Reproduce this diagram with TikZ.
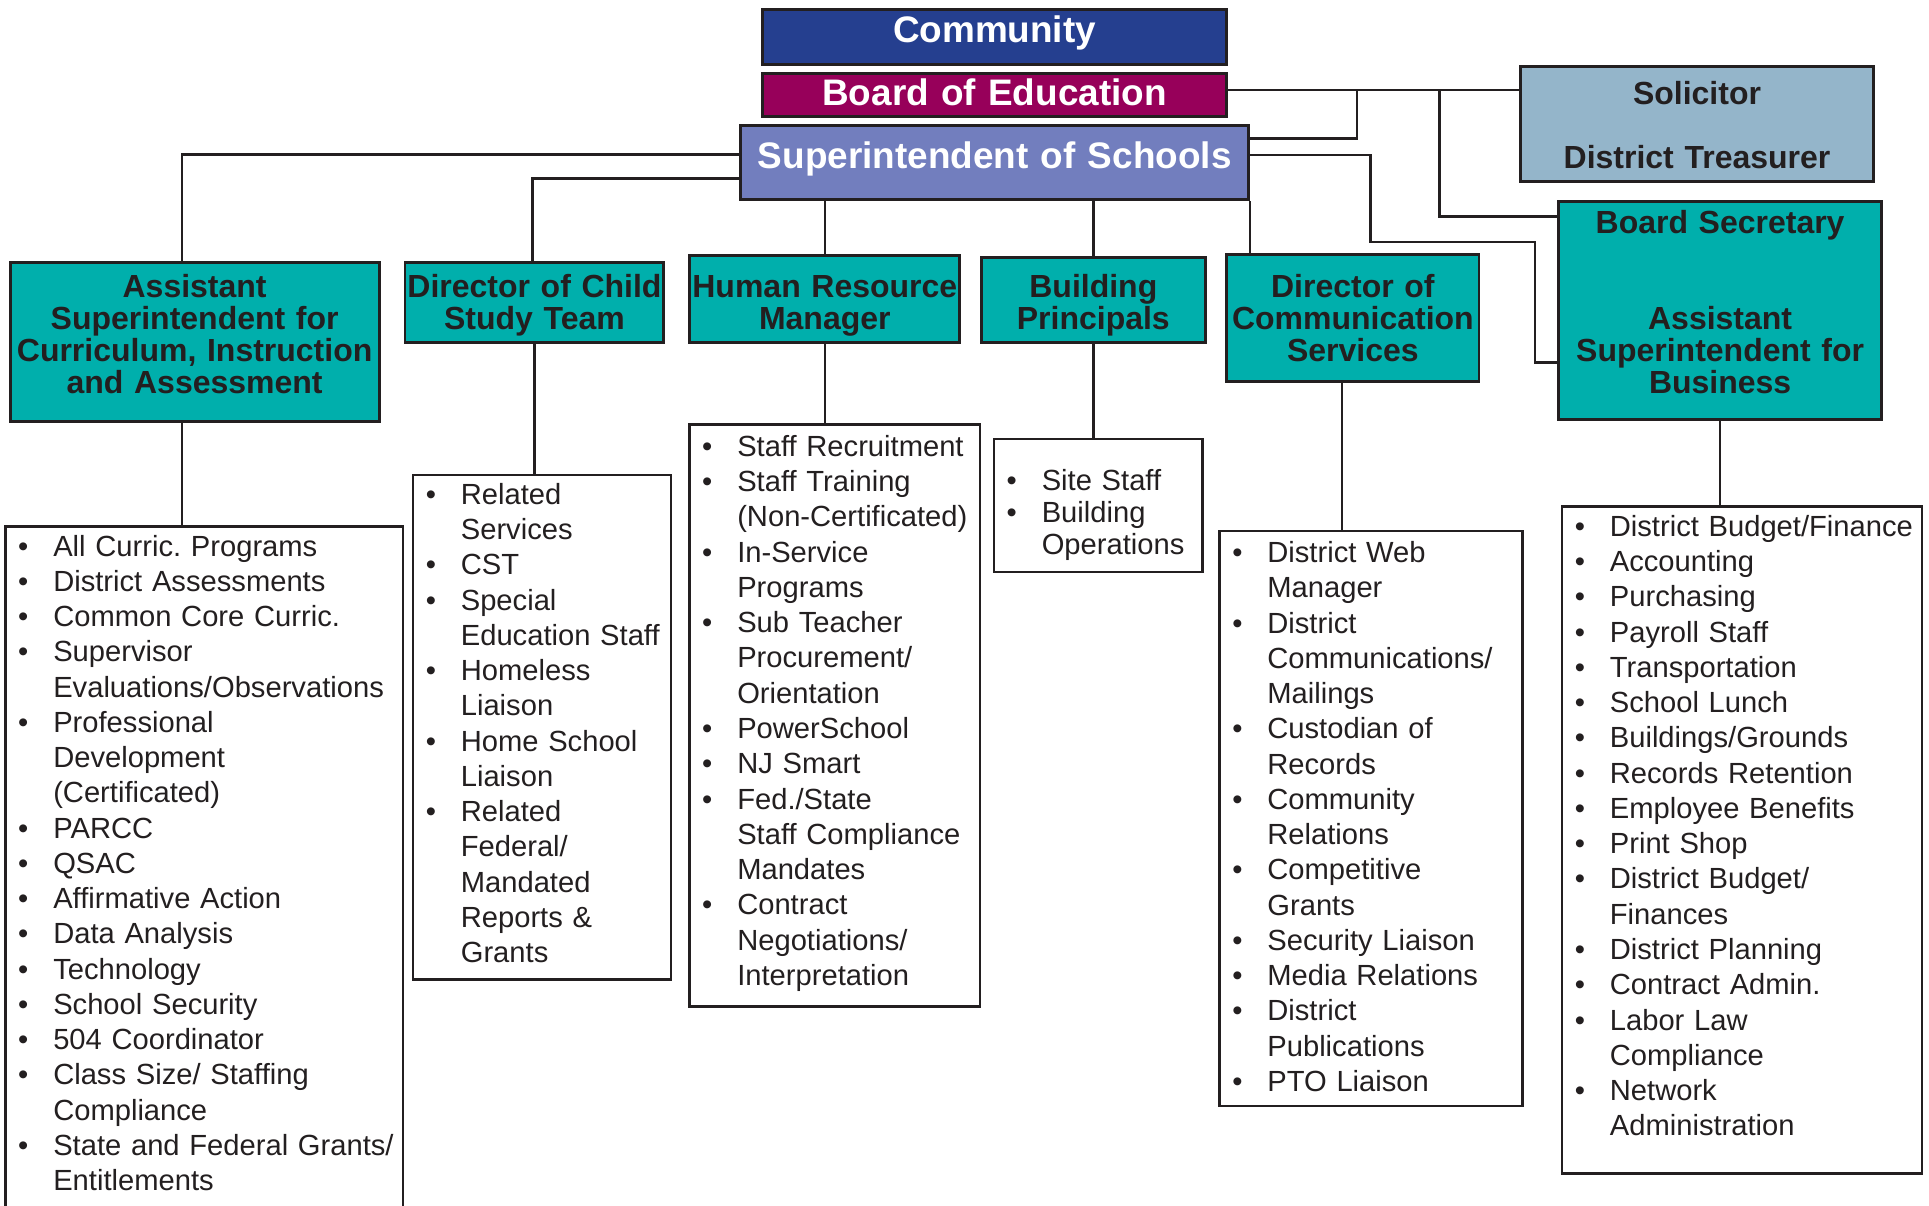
\documentclass[tikz,border=0pt]{standalone}
\usepackage{fontspec}
\setmainfont{Liberation Sans}
\frenchspacing
\definecolor{commblue}{HTML}{253F8F}
\definecolor{boardred}{HTML}{97005A}
\definecolor{suptblue}{HTML}{727EBE}
\definecolor{solblue}{HTML}{94B5CA}
\definecolor{headteal}{HTML}{00AFAC}
\definecolor{ink}{HTML}{231F20}
% one bullet line of a duty list
\newcommand{\duty}[1]{\noindent\hangindent=19.5pt\hangafter=1\hbox to 19.5pt{\hspace{5.25pt}\textbullet\hfil}#1\par}
\begin{document}
\begin{tikzpicture}[x=0.5pt,y=-0.5pt]
 \tikzset{topbox/.style={draw=ink, line width=1.2pt, inner xsep=-6pt, inner ysep=0pt, anchor=north west, align=center, text=white, font=\bfseries\fontsize{15}{15}\selectfont},
  headbox/.style={draw=ink, line width=1.2pt, fill=headteal, inner xsep=-6pt, inner ysep=0pt, anchor=north west, align=center, text=ink, font=\bfseries\fontsize{13}{13}\selectfont},
  listbox/.style={draw=ink, line width=1pt, inner xsep=0pt, inner ysep=0pt, anchor=north west, align=left, text=ink, font=\fontsize{11.85}{14.33}\selectfont},
  link/.style={draw=ink, line width=1pt}}
  \useasboundingbox (0,0) rectangle (1568,980);
  % top of the chart
  \node[topbox, fill=commblue, text width=200.6pt, text height=13.25pt, text depth=9.25pt] (community) at (618.6,6.5) {Community};
  \node[topbox, fill=boardred, text width=200.6pt, text height=13.1pt, text depth=4.5pt] (board) at (618.6,58.3) {Board of Education};
  \node[topbox, fill=suptblue, text width=218.35pt, text height=17.25pt, text depth=12.75pt] (supt) at (601,101) {Superintendent of Schools};
  \node[headbox, fill=solblue, text width=155.2pt, text height=15.5pt, text depth=31.15pt] (solicitor) at (1235,53) {Solicitor\\[13pt]District Treasurer};
  \node[headbox, text width=143pt, text height=12.85pt, text depth=75.6pt] (business) at (1266,162.6) {Board Secretary\\[26pt]Assistant\\Superintendent for\\Business};
  % second row
  \node[headbox, text width=162pt, text height=14.25pt, text depth=50.2pt] (curric) at (7,212.5) {Assistant\\Superintendent for\\Curriculum, Instruction\\and Assessment};
  \node[headbox, text width=117.25pt, text height=14.5pt, text depth=18pt] (cst) at (328,212) {Director of Child\\Study Team};
  \node[headbox, text width=121.75pt, text height=17.15pt, text depth=18pt] (hr) at (559.5,206.7) {Human Resource\\Manager};
  \node[headbox, text width=103.2pt, text height=16.5pt, text depth=18pt] (bldg) at (796.3,208) {Building\\Principals};
  \node[headbox, text width=114.5pt, text height=17.5pt, text depth=34pt] (comm) at (996,206) {Director of\\Communication\\Services};
  % duty lists
  \node[listbox, text width=161.6pt, text height=12pt, text depth=274.5pt] (curlist) at (3.3,427) {\duty{All Curric. Programs}\duty{District Assessments}\duty{Common Core Curric.}\duty{Supervisor\newline Evaluations/Observations}\duty{Professional\newline Development\newline (Certificated)}\duty{PARCC}\duty{QSAC}\duty{Affirmative Action}\duty{Data Analysis}\duty{Technology}\duty{School Security}\duty{504 Coordinator}\duty{Class Size/ Staffing\newline Compliance}\duty{State and Federal Grants/\newline Entitlements}};
  \node[listbox, text width=105pt, text height=12pt, text depth=193pt] (cstlist) at (334.6,385) {\duty{Related\newline Services}\duty{CST}\duty{Special\newline Education Staff}\duty{Homeless\newline Liaison}\duty{Home School\newline Liaison}\duty{Related\newline Federal/\newline Mandated\newline Reports \&\newline Grants}};
  \node[listbox, text width=118.05pt, text height=13pt, text depth=223.5pt] (hrlist) at (559.3,344) {\duty{Staff Recruitment}\duty{Staff Training\newline (Non-Certificated)}\duty{In-Service\newline Programs}\duty{Sub Teacher\newline Procurement/\newline Orientation}\duty{PowerSchool}\duty{NJ Smart}\duty{Fed./State\newline Staff Compliance\newline Mandates}\duty{Contract\newline Negotiations/\newline Interpretation}};
  \node[listbox, font=\fontsize{11.85}{13}\selectfont, text width=84.9pt, text height=21pt, text depth=33pt] (bldglist) at (806.8,356) {\duty{Site Staff}\duty{Building\newline Operations}};
  \node[listbox, text width=123.1pt, text height=12.8pt, text depth=220.85pt] (commlist) at (990.2,430.7) {\duty{District Web\newline Manager}\duty{District\newline Communications/\newline Mailings}\duty{Custodian of\newline Records}\duty{Community\newline Relations}\duty{Competitive\newline Grants}\duty{Security Liaison}\duty{Media Relations}\duty{District\newline Publications}\duty{PTO Liaison}};
  \node[listbox, text width=146.35pt, text height=12.2pt, text depth=258.9pt] (buslist) at (1268.6,410.6) {\duty{District Budget/Finance}\duty{Accounting}\duty{Purchasing}\duty{Payroll Staff}\duty{Transportation}\duty{School Lunch}\duty{Buildings/Grounds}\duty{Records Retention}\duty{Employee Benefits}\duty{Print Shop}\duty{District Budget/\newline Finances}\duty{District Planning}\duty{Contract Admin.}\duty{Labor Law\newline Compliance}\duty{Network\newline Administration}};
  % turning points of the connectors
  \coordinate (bt) at (1103,73);
  \coordinate (sa) at (1103,112.4);
  \coordinate (sb) at (1170,176.1);
  \coordinate (sc) at (1114,126);
  \coordinate (sd) at (1247.5,196.5);
  \coordinate (se) at (1247.5,294.5);
  \coordinate (ca) at (148,125.4);
  \coordinate (cb) at (433,145);
  \coordinate (cc) at (1091,400);
  % connectors
  \draw[link] (board.east |- bt) -- (solicitor.west |- bt);
  \draw[link] (bt) -- (sa) -- (supt.east |- sa);
  \draw[link] (sb |- bt) -- (sb) -- (business.west |- sb);
  \draw[link] (supt.east |- sc) -- (sc) |- (sd) -- (se) -- (business.west |- se);
  \draw[link] (supt.west |- ca) -- (ca) -- (curric.north -| ca);
  \draw[link] (supt.west |- cb) -- (cb) -- (cst.north -| cb);
  \draw[link] (supt.south -| hr.north) -- (hr.north);
  \draw[link] (supt.south -| bldg.north) -- (bldg.north);
  \draw[link] (supt.south east) -- (comm.north -| supt.south east);
  \draw[link] (curric.south -| ca) -- (curlist.north -| ca);
  \draw[link] (cst.south) -- (cstlist.north -| cst.south);
  \draw[link] (hr.south) -- (hrlist.north -| hr.south);
  \draw[link] (bldg.south) -- (bldglist.north -| bldg.south);
  \draw[link] (comm.south -| cc) -- (commlist.north -| cc);
  \draw[link] (business.south) -- (buslist.north -| business.south);
\end{tikzpicture}
\end{document}
